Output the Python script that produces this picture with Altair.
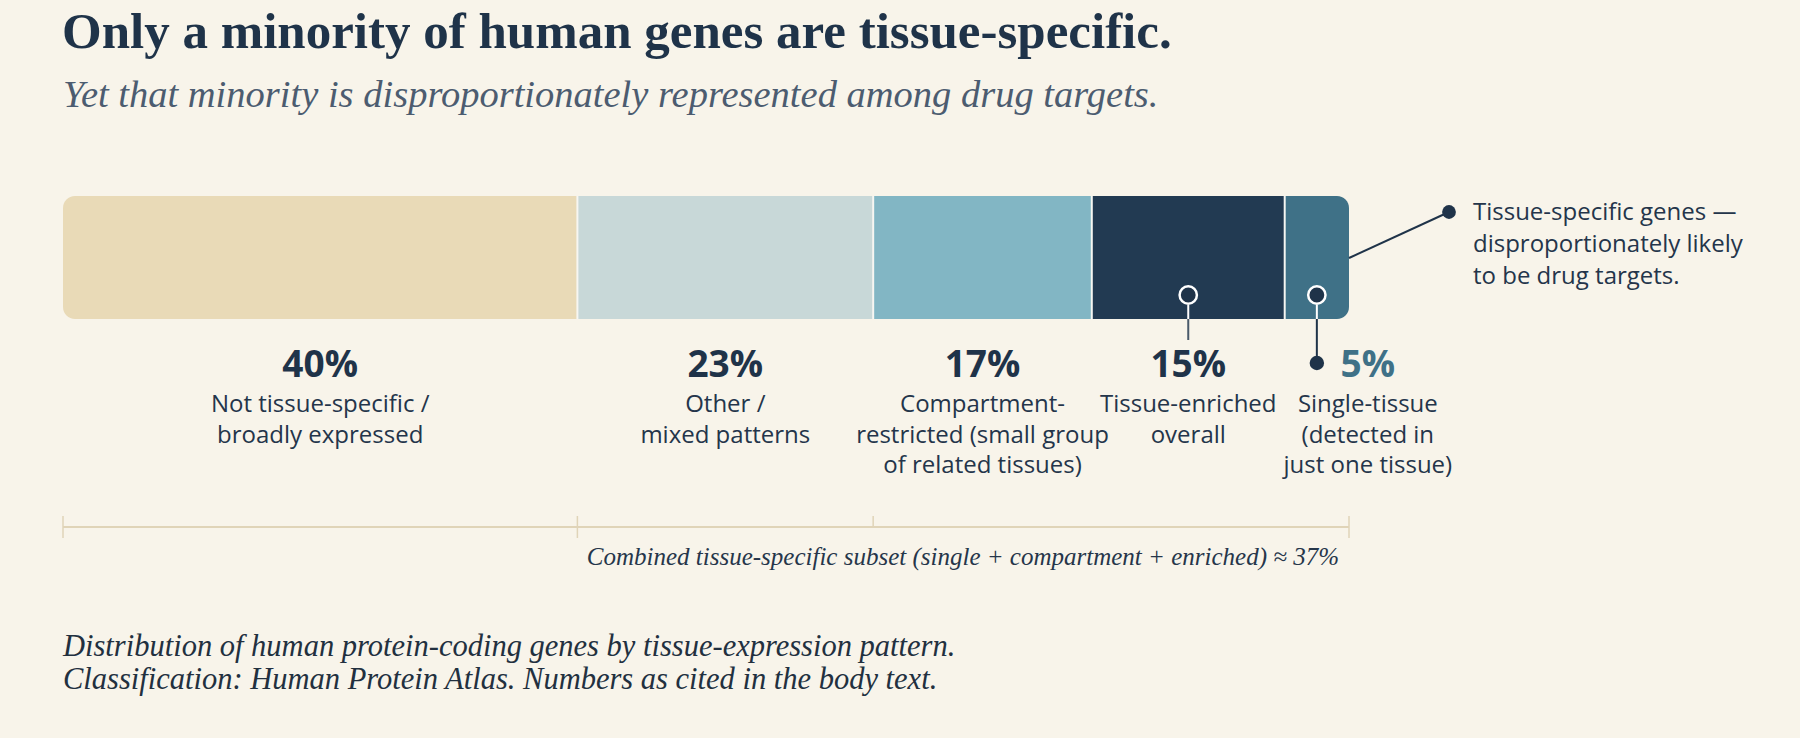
import altair as alt
import pandas as pd

# ---------------- data ----------------
categories = ["broad", "other", "compartment", "enriched", "single"]
shares = [40, 23, 17, 15, 5]
pct_labels = ["40%", "23%", "17%", "15%", "5%"]
desc_labels = [
    "Not tissue-specific /\nbroadly expressed",
    "Other /\nmixed patterns",
    "Compartment-\nrestricted (small group\nof related tissues)",
    "Tissue-enriched\noverall",
    "Single-tissue\n(detected in\njust one tissue)",
]
seg_colors = ["#e9dab7", "#c8d8d8", "#82b6c4", "#223a52", "#3f7187"]

title_text = "Only a minority of human genes are tissue-specific."
subtitle_text = "Yet that minority is disproportionately represented among drug targets."
callout_lines = ["Tissue-specific genes \u2014", "disproportionately likely", "to be drug targets."]
bracket_caption = "Combined tissue-specific subset (single + compartment + enriched) \u2248 37%"
footer_lines = [
    "Distribution of human protein-coding genes by tissue-expression pattern.",
    "Classification: Human Protein Atlas. Numbers as cited in the body text.",
]

# ---------------- styling ----------------
BG = "#f8f4ea"
NAVY = "#1f3349"
STEEL = "#3f7187"
TAN = "#e0d4b8"
SERIF = "Liberation Serif"
SANS = "Open Sans"

df = pd.DataFrame({"cat": categories, "share": shares, "pct": pct_labels, "desc": desc_labels})
df["idx"] = range(len(df))
df["end"] = df["share"].cumsum()
df["start"] = df["end"] - df["share"]
df["mid"] = (df["start"] + df["end"]) / 2

xscale = alt.Scale(domain=[0, 100], range=[63, 1349])


def X(field):
    return alt.X(f"{field}:Q", scale=xscale, axis=None)


color = alt.Color("cat:N", scale=alt.Scale(domain=categories, range=seg_colors), legend=None)

base = alt.Chart(df)
BAR_TOP, BAR_BOT = 196, 319

bar_first = base.transform_filter("datum.idx == 0").mark_bar(
    cornerRadiusTopLeft=12, cornerRadiusBottomLeft=12
).encode(x=X("start"), x2="end", y=alt.value(BAR_TOP), y2=alt.value(BAR_BOT), color=color)
bar_mid = base.transform_filter("datum.idx > 0 && datum.idx < 4").mark_bar(
    cornerRadius=0
).encode(x=X("start"), x2="end", y=alt.value(BAR_TOP), y2=alt.value(BAR_BOT), color=color)
bar_last = base.transform_filter("datum.idx == 4").mark_bar(
    cornerRadiusTopRight=12, cornerRadiusBottomRight=12
).encode(x=X("start"), x2="end", y=alt.value(BAR_TOP), y2=alt.value(BAR_BOT), color=color)

separators = base.transform_filter("datum.idx < 4").mark_rule(
    color="#f6f6f2", strokeWidth=2
).encode(x=X("end"), y=alt.value(BAR_TOP), y2=alt.value(BAR_BOT))

# percent labels
pct_main = base.transform_filter("datum.idx < 4").mark_text(
    font=SANS, fontSize=37, fontWeight="bold", color=NAVY, baseline="alphabetic"
).encode(x=X("mid"), y=alt.value(377), text="pct:N")
pct_small = base.transform_filter("datum.idx == 4").mark_text(
    font=SANS, fontSize=37, fontWeight="bold", color=STEEL, baseline="alphabetic", dx=51
).encode(x=X("mid"), y=alt.value(377), text="pct:N")

desc_main = base.transform_filter("datum.idx < 4").mark_text(
    font=SANS, fontSize=24, color="#24354a", baseline="alphabetic", lineBreak="\n", lineHeight=30.5
).encode(x=X("mid"), y=alt.value(412), text="desc:N")
desc_small = base.transform_filter("datum.idx == 4").mark_text(
    font=SANS, fontSize=24, color="#24354a", baseline="alphabetic", lineBreak="\n", lineHeight=30.5, dx=51
).encode(x=X("mid"), y=alt.value(412), text="desc:N")

# markers on the tissue-specific segments
white_stems = base.transform_filter("datum.idx >= 3").mark_rule(color="white", strokeWidth=2).encode(
    x=X("mid"), y=alt.value(305), y2=alt.value(BAR_BOT)
)
stem_enriched = base.transform_filter("datum.idx == 3").mark_rule(color="#4a5a6a", strokeWidth=2).encode(
    x=X("mid"), y=alt.value(BAR_BOT), y2=alt.value(340)
)
stem_single = base.transform_filter("datum.idx == 4").mark_rule(color=NAVY, strokeWidth=2).encode(
    x=X("mid"), y=alt.value(BAR_BOT), y2=alt.value(360)
)
rings = base.transform_filter("datum.idx >= 3").mark_point(
    shape="circle", filled=True, fill=NAVY, stroke="white", strokeWidth=2.5, size=300, opacity=1
).encode(x=X("mid"), y=alt.value(295))
single_dot = base.transform_filter("datum.idx == 4").mark_point(
    shape="circle", filled=True, fill=NAVY, size=210, opacity=1
).encode(x=X("mid"), y=alt.value(363))

# right callout
edge = alt.Chart(pd.DataFrame({"v": [100]}))
callout_line = edge.mark_rule(color=NAVY, strokeWidth=2).encode(
    x=X("v"), x2=alt.value(1449), y=alt.value(258), y2=alt.value(212)
)
callout_dot = edge.mark_point(shape="circle", filled=True, fill=NAVY, size=190, opacity=1).encode(
    x=alt.value(1449), y=alt.value(212)
)
callout_text = alt.Chart(pd.DataFrame({"t": ["\n".join(callout_lines)]})).mark_text(
    font=SANS, fontSize=24, color="#24354a", align="left", baseline="alphabetic", lineBreak="\n", lineHeight=32
).encode(x=alt.value(1473), y=alt.value(220), text="t:N")

# bracket
bracket_line = edge.mark_rule(color=TAN, strokeWidth=2).encode(
    x=alt.datum(0, scale=xscale, axis=None), x2=alt.datum(100), y=alt.value(527)
)
ticks_full = base.transform_filter("datum.idx == 0 || datum.idx == 4").mark_rule(color=TAN, strokeWidth=1.5).encode(
    x=X("end"), y=alt.value(516), y2=alt.value(538)
)
tick_zero = base.transform_filter("datum.idx == 0").mark_rule(color=TAN, strokeWidth=1.5).encode(
    x=X("start"), y=alt.value(516), y2=alt.value(538)
)
tick_short = base.transform_filter("datum.idx == 1").mark_rule(color=TAN, strokeWidth=1.5).encode(
    x=X("end"), y=alt.value(516), y2=alt.value(527)
)
bracket_text = alt.Chart(pd.DataFrame({"t": [bracket_caption]})).mark_text(
    font=SERIF, fontSize=25, fontStyle="italic", color="#26364a", align="right", baseline="alphabetic"
).encode(x=alt.value(1339), y=alt.value(565), text="t:N")

# titles and footer
title = alt.Chart(pd.DataFrame({"t": [title_text]})).mark_text(
    font=SERIF, fontSize=51, fontWeight="bold", color=NAVY, align="left", baseline="alphabetic"
).encode(x=alt.value(62), y=alt.value(48), text="t:N")
subtitle = alt.Chart(pd.DataFrame({"t": [subtitle_text]})).mark_text(
    font=SERIF, fontSize=38.5, fontStyle="italic", color="#4c5c70", align="left", baseline="alphabetic"
).encode(x=alt.value(63), y=alt.value(107), text="t:N")
footer = alt.Chart(pd.DataFrame({"t": ["\n".join(footer_lines)]})).mark_text(
    font=SERIF, fontSize=30.5, fontStyle="italic", color="#22303f", align="left", baseline="alphabetic",
    lineBreak="\n", lineHeight=33
).encode(x=alt.value(63), y=alt.value(656), text="t:N")

chart = alt.layer(
    bar_first, bar_mid, bar_last, separators,
    white_stems, stem_enriched, stem_single, rings, single_dot,
    pct_main, pct_small, desc_main, desc_small,
    callout_line, callout_dot, callout_text,
    bracket_line, ticks_full, tick_zero, tick_short, bracket_text,
    title, subtitle, footer,
).properties(
    width=1800, height=738, padding=0, autosize="none"
).configure(background=BG).configure_view(stroke=None)

chart.save("out.html", embed_options={"renderer": "svg", "actions": False})
